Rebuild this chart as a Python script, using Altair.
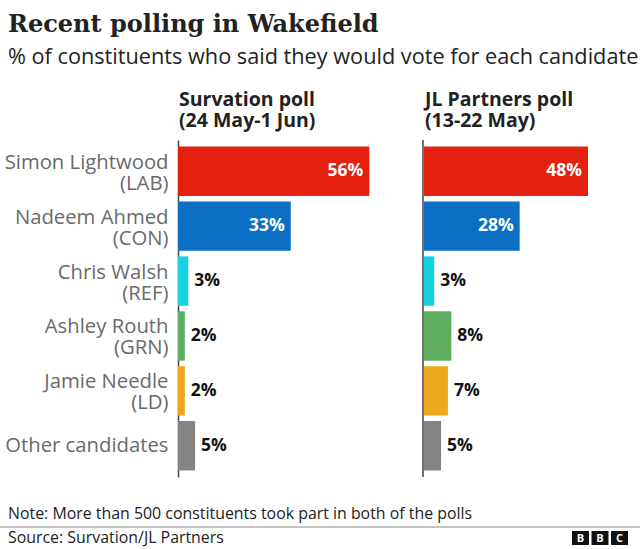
import altair as alt
import pandas as pd

# ---- data ----
candidates = ["Simon Lightwood", "Nadeem Ahmed", "Chris Walsh", "Ashley Routh", "Jamie Needle", "Other candidates"]
parties = ["(LAB)", "(CON)", "(REF)", "(GRN)", "(LD)", ""]
survation = [56, 33, 3, 2, 2, 5]
jl_partners = [48, 28, 3, 8, 7, 5]
party_colors = ["#E4200F", "#0A6FC5", "#14D2E2", "#5DAF5E", "#EEA820", "#848484"]
poll_names = ["Survation", "JL Partners"]
poll_titles = [["Survation poll", "(24 May-1 Jun)"], ["JL Partners poll", "(13-22 May)"]]
title_text = "Recent polling in Wakefield"
subtitle_text = "% of constituents who said they would vote for each candidate"
note_text = "Note: More than 500 constituents took part in both of the polls"
source_text = "Source: Survation/JL Partners"

keys = [c + ("|" + p if p else "") for c, p in zip(candidates, parties)]

rows = []
for poll, vals in zip(poll_names, [survation, jl_partners]):
    for k, v in zip(keys, vals):
        rows.append({"poll": poll, "key": k, "value": v, "label": f"{v}%"})
df = pd.DataFrame(rows)

SANS = "Open Sans"
SERIF = "DejaVu Serif"
W, H = 462, 337

y_scale = alt.Scale(domain=keys, paddingInner=0.1, paddingOuter=0.12)
y_enc_axis = alt.Y(
    "key:N",
    sort=keys,
    scale=y_scale,
    axis=alt.Axis(
        title=None, ticks=False, grid=False, domain=True, domainColor="#444444",
        domainWidth=1.5, labelExpr="split(datum.label, '|')", labelFont=SANS,
        labelFontSize=20.3, labelColor="#6a6a6a", labelPadding=10, labelLimit=400,
        labelLineHeight=21,
        labelOffset={"condition": {"test": "indexof(datum.value, '|') >= 0", "value": -8.5},
                     "value": 0},
    ),
)
y_enc = alt.Y("key:N", sort=keys, scale=y_scale)
color_enc = alt.Color("key:N", scale=alt.Scale(domain=keys, range=party_colors), legend=None)

x_ranges = [[0, 205], [246, 451]]


def panel(i):
    src = alt.Chart(df).transform_filter(alt.datum.poll == poll_names[i])
    xs = alt.Scale(domain=[0, 60], range=x_ranges[i])
    x_enc = alt.X("value:Q", scale=xs, axis=None)
    bars = src.mark_bar(cornerRadius=0).encode(
        x=x_enc, y=(y_enc_axis if i == 0 else y_enc), color=color_enc
    )
    t_in = src.transform_filter(alt.datum.value >= 20).mark_text(
        align="right", baseline="middle", dx=-6, font=SANS, fontSize=17.5,
        fontWeight="bold", color="white"
    ).encode(x=x_enc, y=y_enc, text="label:N")
    t_out = src.transform_filter(alt.datum.value < 20).mark_text(
        align="left", baseline="middle", dx=6, font=SANS, fontSize=17.5,
        fontWeight="bold", color="#111111"
    ).encode(x=x_enc, y=y_enc, text="label:N")
    return [bars, t_in, t_out]


one = pd.DataFrame({"o": [0]})

annots = []
# panel 2 axis line
annots.append(alt.Chart(one).mark_rule(color="#444444", strokeWidth=1.5).encode(
    x=alt.value(245), y=alt.value(0), y2=alt.value(H)))
# panel headers
for i, xpos in enumerate([1, 247]):
    annots.append(alt.Chart(one).mark_text(
        align="left", baseline="alphabetic", font=SANS, fontSize=19.5,
        fontWeight="bold", color="#222222", lineHeight=21,
        text=poll_titles[i]).encode(x=alt.value(xpos), y=alt.value(-34)))
# title / subtitle
annots.append(alt.Chart(one).mark_text(
    align="left", baseline="alphabetic", font=SERIF, fontSize=24, fontWeight="bold",
    color="#222222", text=title_text).encode(x=alt.value(-170), y=alt.value(-108)))
annots.append(alt.Chart(one).mark_text(
    align="left", baseline="alphabetic", font=SANS, fontSize=21.7,
    color="#222222", text=subtitle_text).encode(x=alt.value(-170), y=alt.value(-76)))
# footer
annots.append(alt.Chart(one).mark_text(
    align="left", baseline="alphabetic", font=SANS, fontSize=15.9,
    color="#222222", text=note_text).encode(x=alt.value(-170), y=alt.value(379)))
annots.append(alt.Chart(one).mark_rule(color="#8a8a8a", strokeWidth=1).encode(
    x=alt.value(-178), x2=alt.value(W), y=alt.value(387)))
annots.append(alt.Chart(one).mark_text(
    align="left", baseline="alphabetic", font=SANS, fontSize=15.9,
    color="#222222", text=source_text).encode(x=alt.value(-170), y=alt.value(403)))
# BBC blocks
for j, letter in enumerate("BBC"):
    x0 = 394 + j * 19.5
    annots.append(alt.Chart(one).mark_rect(color="#111111").encode(
        x=alt.value(x0), x2=alt.value(x0 + 17), y=alt.value(391), y2=alt.value(405)))
    annots.append(alt.Chart(one).mark_text(
        align="center", baseline="middle", font=SANS, fontSize=11, fontWeight="bold",
        color="white", text=letter).encode(x=alt.value(x0 + 8.5), y=alt.value(398.5)))

layers = panel(0) + panel(1) + annots
chart = alt.layer(*layers).resolve_scale(x="independent").properties(
    width=W, height=H,
    autosize=alt.AutoSizeParams(type="none"),
    padding={"left": 178, "top": 140, "right": 0, "bottom": 72},
).configure_view(stroke=None)

chart.save("out.html", embed_options={"renderer": "svg", "actions": False})
